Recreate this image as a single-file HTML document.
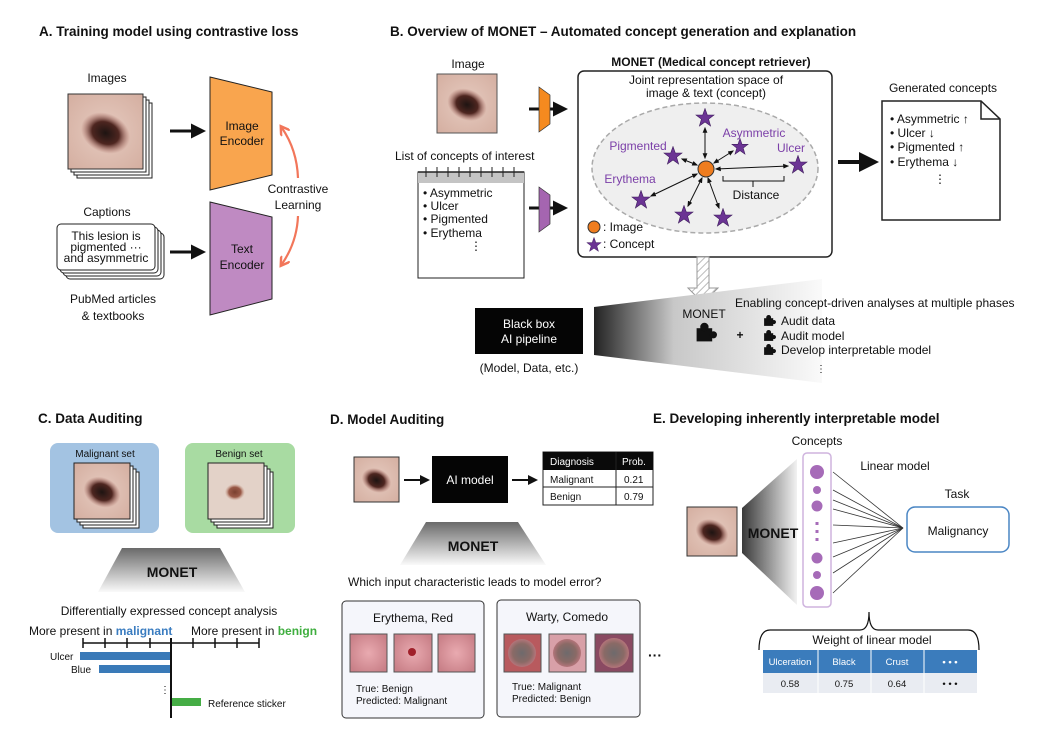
<!DOCTYPE html>
<html><head><meta charset="utf-8"><style>
html,body{margin:0;padding:0;background:#fff}
svg{display:block}
text{font-family:"Liberation Sans",Arial,sans-serif;fill:#111}
.t{font-weight:bold;font-size:13.5px}
.s{font-size:12px}
.xs{font-size:10px}
.p{fill:#7b3fa8}
</style></head><body>
<svg width="1050" height="747" viewBox="0 0 1050 747" xmlns="http://www.w3.org/2000/svg">
<defs>
<radialGradient id="skin" cx="50%" cy="50%" r="70%"><stop offset="0" stop-color="#e6cbc0"/><stop offset="1" stop-color="#d4aea0"/></radialGradient>
<radialGradient id="les" cx="50%" cy="50%" r="50%"><stop offset="0" stop-color="#1e1412"/><stop offset=".55" stop-color="#4e2620"/><stop offset="1" stop-color="#a46058" stop-opacity="0"/></radialGradient>
<radialGradient id="les2" cx="50%" cy="50%" r="50%"><stop offset="0" stop-color="#7a4030"/><stop offset=".6" stop-color="#9a5a48"/><stop offset="1" stop-color="#c89a88" stop-opacity="0"/></radialGradient>
<radialGradient id="derm1" cx="50%" cy="50%" r="60%"><stop offset="0" stop-color="#e9aab0"/><stop offset="1" stop-color="#c98088"/></radialGradient>
<radialGradient id="derm2" cx="50%" cy="50%" r="55%"><stop offset="0" stop-color="#6e6a6c"/><stop offset=".6" stop-color="#8a6a66"/><stop offset="1" stop-color="#c07880"/></radialGradient>
<symbol id="mole" viewBox="0 0 100 100" preserveAspectRatio="none"><rect width="100" height="100" fill="url(#skin)"/><ellipse cx="50" cy="52" rx="34" ry="26" fill="url(#les)" transform="rotate(25 50 52)"/></symbol>
<symbol id="mole2" viewBox="0 0 100 100" preserveAspectRatio="none"><rect width="100" height="100" fill="#e3d2c8"/><ellipse cx="48" cy="52" rx="18" ry="15" fill="url(#les2)"/></symbol>
<symbol id="star" viewBox="-10 -10 20 20"><polygon points="0,-9.5 2.3,-3 9,-3 3.6,1.2 5.6,8 0,4 -5.6,8 -3.6,1.2 -9,-3 -2.3,-3" fill="#6b3494" stroke="#3e1c5c" stroke-width=".6"/></symbol>
<symbol id="puz" viewBox="0 0 20 20"><rect x="3" y="6" width="13" height="11" fill="#111"/><circle cx="9.5" cy="5" r="3.5" fill="#111"/><circle cx="17" cy="11.5" r="3" fill="#111"/></symbol>
<linearGradient id="gB" x1="0" x2="1" y1="0" y2="0"><stop offset="0" stop-color="#222"/><stop offset=".35" stop-color="#c8c8c8"/><stop offset="1" stop-color="#fafafa"/></linearGradient>
<linearGradient id="gV" x1="0" x2="0" y1="0" y2="1"><stop offset="0" stop-color="#6a6a6a"/><stop offset="1" stop-color="#fafafa"/></linearGradient>
<linearGradient id="gE" x1="0" x2="1" y1="0" y2="0"><stop offset="0" stop-color="#3a3a3a"/><stop offset="1" stop-color="#f2f2f2"/></linearGradient>
<pattern id="hatch" width="5" height="5" patternUnits="userSpaceOnUse" patternTransform="rotate(45)"><rect width="5" height="5" fill="#fff"/><line x1="0" y1="0" x2="0" y2="5" stroke="#bbb" stroke-width="2"/></pattern>
<marker id="ah" viewBox="0 0 10 10" refX="8" refY="5" markerWidth="5" markerHeight="5" orient="auto-start-reverse"><path d="M0,0L10,5L0,10z" fill="#111"/></marker>
<marker id="ahs" viewBox="0 0 10 10" refX="8" refY="5" markerWidth="6" markerHeight="6" orient="auto-start-reverse"><path d="M0,1L10,5L0,9z" fill="#111"/></marker>
<marker id="aho" viewBox="0 0 10 10" refX="6" refY="5" markerWidth="5" markerHeight="5" orient="auto-start-reverse"><path d="M0,0L8,5L0,10" fill="none" stroke="#f2765a" stroke-width="2.2"/></marker>
</defs>

<!-- Panel A -->
<text x="39" y="36" class="t">A. Training model using contrastive loss</text>
<text x="107" y="82" class="s" text-anchor="middle" font-size="13">Images</text>
<g stroke="#222" stroke-width="1">
<rect x="77" y="103" width="75" height="75" fill="#fff"/><rect x="74" y="100" width="75" height="75" fill="#fff"/><rect x="71" y="97" width="75" height="75" fill="#fff"/>
</g>
<use href="#mole" x="68" y="94" width="75" height="75"/><rect x="68" y="94" width="75" height="75" fill="none" stroke="#333"/>
<line x1="170" y1="131" x2="203" y2="131" stroke="#111" stroke-width="3" marker-end="url(#ah)"/>
<polygon points="210,77 272,92 272,175 210,190" fill="#f9a54e" stroke="#222"/>
<text x="242" y="130" class="s" text-anchor="middle" font-size="13">Image</text>
<text x="242" y="145" class="s" text-anchor="middle" font-size="13">Encoder</text>
<polygon points="210,202 272,217 272,299 210,315" fill="#bf8ac2" stroke="#222"/>
<text x="242" y="253" class="s" text-anchor="middle" font-size="13">Text</text>
<text x="242" y="269" class="s" text-anchor="middle" font-size="13">Encoder</text>
<text x="298" y="193" class="s" text-anchor="middle" font-size="13">Contrastive</text>
<text x="298" y="209" class="s" text-anchor="middle" font-size="13">Learning</text>
<path d="M282,128 Q297,150 298,178" fill="none" stroke="#f2765a" stroke-width="2.2" marker-start="url(#aho)"/>
<path d="M298,216 Q297,242 282,264" fill="none" stroke="#f2765a" stroke-width="2.2" marker-end="url(#aho)"/>
<text x="107" y="216" class="s" text-anchor="middle" font-size="13">Captions</text>
<g stroke="#222" fill="#fff">
<rect x="66" y="233" width="98" height="46" rx="4"/><rect x="63" y="230" width="98" height="46" rx="4"/><rect x="60" y="227" width="98" height="46" rx="4"/><rect x="57" y="224" width="98" height="46" rx="4"/>
</g>
<text x="106" y="240" class="s" text-anchor="middle" font-size="11">This lesion is</text>
<text x="106" y="251" class="s" text-anchor="middle" font-size="11">pigmented ···</text>
<text x="106" y="262" class="s" text-anchor="middle" font-size="11">and asymmetric</text>
<line x1="170" y1="252" x2="203" y2="252" stroke="#111" stroke-width="3" marker-end="url(#ah)"/>
<text x="113" y="303" class="s" text-anchor="middle" font-size="13">PubMed articles</text>
<text x="113" y="320" class="s" text-anchor="middle" font-size="13">&amp; textbooks</text>

<!-- Panel B -->
<text x="390" y="36" class="t">B. Overview of MONET – Automated concept generation and explanation</text>
<text x="468" y="68" class="s" text-anchor="middle" font-size="13">Image</text>
<use href="#mole" x="437" y="74" width="60" height="59"/><rect x="437" y="74" width="60" height="59" fill="none" stroke="#555"/>
<line x1="529" y1="109" x2="565" y2="109" stroke="#111" stroke-width="3" marker-end="url(#ah)"/>
<polygon points="539,87 550,95 550,124 539,132" fill="#f58a1f" stroke="#333" stroke-width=".7"/>
<text x="395" y="160" class="s" font-size="12.5">List of concepts of interest</text>
<rect x="418" y="172" width="106" height="106" fill="#fff" stroke="#222"/>
<rect x="418" y="172" width="106" height="11" fill="#c4c4c4"/>
<line x1="418" y1="172" x2="524" y2="172" stroke="#222" stroke-width="1.5"/>
<g stroke="#222" stroke-width="1"><line x1="426" y1="167" x2="426" y2="177"/><line x1="437" y1="167" x2="437" y2="177"/><line x1="448" y1="167" x2="448" y2="177"/><line x1="459" y1="167" x2="459" y2="177"/><line x1="470" y1="167" x2="470" y2="177"/><line x1="481" y1="167" x2="481" y2="177"/><line x1="492" y1="167" x2="492" y2="177"/><line x1="503" y1="167" x2="503" y2="177"/><line x1="514" y1="167" x2="514" y2="177"/></g>
<text x="423" y="197" class="s">• Asymmetric</text><text x="423" y="210" class="s">• Ulcer</text><text x="423" y="223" class="s">• Pigmented</text><text x="423" y="237" class="s">• Erythema</text>
<text x="470" y="250" class="s">⋮</text>
<line x1="529" y1="208" x2="565" y2="208" stroke="#111" stroke-width="3" marker-end="url(#ah)"/>
<polygon points="539,187 550,195 550,224 539,232" fill="#a565b0" stroke="#333" stroke-width=".7"/>
<text x="711" y="66" class="s" text-anchor="middle" font-weight="bold" font-size="12.5">MONET (Medical concept retriever)</text>
<rect x="578" y="71" width="254" height="186" rx="6" fill="#fff" stroke="#222" stroke-width="1.5"/>
<text x="706" y="84" class="s" text-anchor="middle">Joint representation space of</text>
<text x="706" y="97" class="s" text-anchor="middle">image &amp; text (concept)</text>
<ellipse cx="705" cy="168" rx="113" ry="65" fill="#efefef" stroke="#aaa" stroke-width="1.5" stroke-dasharray="5,3"/>
<g stroke="#111" stroke-width="1" marker-start="url(#ahs)" marker-end="url(#ahs)">
<line x1="705" y1="158" x2="705" y2="128"/><line x1="714" y1="163" x2="733" y2="151"/><line x1="716" y1="169" x2="788" y2="166"/><line x1="697" y1="165" x2="682" y2="159"/><line x1="697" y1="174" x2="651" y2="196"/><line x1="702" y1="178" x2="688" y2="206"/><line x1="708" y1="178" x2="719" y2="208"/>
</g>
<circle cx="706" cy="169" r="8" fill="#ef7d1f" stroke="#333"/>
<use href="#star" x="695" y="108" width="20" height="20"/>
<use href="#star" x="731" y="138" width="18" height="18"/>
<use href="#star" x="788" y="155" width="20" height="20"/>
<use href="#star" x="663" y="146" width="20" height="20"/>
<use href="#star" x="631" y="190" width="20" height="20"/>
<use href="#star" x="674" y="205" width="20" height="20"/>
<use href="#star" x="713" y="208" width="20" height="20"/>
<text x="638" y="150" class="s p" text-anchor="middle" font-size="12.5">Pigmented</text>
<text x="754" y="137" class="s p" text-anchor="middle" font-size="12.5">Asymmetric</text>
<text x="791" y="152" class="s p" text-anchor="middle" font-size="12.5">Ulcer</text>
<text x="630" y="183" class="s p" text-anchor="middle" font-size="12.5">Erythema</text>
<path d="M723,176 L723,181 L784,181 L784,176 M753,181 L753,187" fill="none" stroke="#111"/>
<text x="756" y="199" class="s" text-anchor="middle">Distance</text>
<circle cx="594" cy="227" r="6" fill="#ef7d1f" stroke="#333"/><text x="603" y="231" class="s">: Image</text>
<use href="#star" x="586" y="237" width="16" height="16"/><text x="603" y="248" class="s">: Concept</text>
<line x1="838" y1="162" x2="875" y2="162" stroke="#111" stroke-width="4" marker-end="url(#ah)"/>
<text x="943" y="92" class="s" text-anchor="middle" font-size="13">Generated concepts</text>
<path d="M882,101 L981,101 L1000,119 L1000,220 L882,220 Z" fill="#fff" stroke="#222" stroke-width="1.5"/>
<path d="M981,101 L981,119 L1000,119" fill="none" stroke="#222" stroke-width="1.5"/>
<text x="890" y="123" class="s">• Asymmetric ↑</text><text x="890" y="137" class="s">• Ulcer ↓</text><text x="890" y="151" class="s">• Pigmented ↑</text><text x="890" y="166" class="s">• Erythema ↓</text>
<text x="934" y="183" class="s">⋮</text>
<path d="M697,257 L709,257 L709,288 L718,288 L703,303 L688,288 L697,288 Z" fill="url(#hatch)" stroke="#999"/>
<polygon points="594,307 822,279 822,383 594,355" fill="url(#gB)"/>
<rect x="475" y="308" width="108" height="46" fill="#050505"/>
<text x="529" y="328" text-anchor="middle" class="s" style="fill:#fff">Black box</text>
<text x="529" y="343" text-anchor="middle" class="s" style="fill:#fff">AI pipeline</text>
<text x="529" y="372" text-anchor="middle" class="s">(Model, Data, etc.)</text>
<text x="704" y="318" text-anchor="middle" class="s">MONET</text>
<use href="#puz" x="692" y="321" width="26" height="24"/>
<text x="740" y="339" text-anchor="middle" class="s" font-weight="bold" font-size="16">+</text>
<text x="735" y="307" class="s">Enabling concept-driven analyses at multiple phases</text>
<use href="#puz" x="762" y="314" width="14" height="14"/><text x="781" y="325" class="s">Audit data</text>
<use href="#puz" x="762" y="329" width="14" height="14"/><text x="781" y="340" class="s">Audit model</text>
<use href="#puz" x="762" y="343" width="14" height="14"/><text x="781" y="354" class="s">Develop interpretable model</text>
<text x="816" y="372" class="xs">⋮</text>

<!-- Panel C -->
<text x="38" y="423" class="t">C. Data Auditing</text>
<rect x="50" y="443" width="109" height="90" rx="8" fill="#a3c3e2"/>
<rect x="185" y="443" width="110" height="90" rx="8" fill="#a8dba2"/>
<text x="105" y="457" text-anchor="middle" class="xs">Malignant set</text>
<text x="239" y="457" text-anchor="middle" class="xs">Benign set</text>
<g stroke="#222" fill="#fff"><rect x="83" y="472" width="56" height="56"/><rect x="80" y="469" width="56" height="56"/><rect x="77" y="466" width="56" height="56"/></g>
<use href="#mole" x="74" y="463" width="56" height="56"/><rect x="74" y="463" width="56" height="56" fill="none" stroke="#222"/>
<g stroke="#222" fill="#fff"><rect x="217" y="472" width="56" height="56"/><rect x="214" y="469" width="56" height="56"/><rect x="211" y="466" width="56" height="56"/></g>
<use href="#mole2" x="208" y="463" width="56" height="56"/><rect x="208" y="463" width="56" height="56" fill="none" stroke="#222"/>
<polygon points="122,548 220,548 245,592 98,592" fill="url(#gV)"/>
<text x="172" y="577" text-anchor="middle" font-weight="bold" font-size="14">MONET</text>
<text x="169" y="615" text-anchor="middle" class="s">Differentially expressed concept analysis</text>
<text x="29" y="635" class="s">More present in <tspan fill="#3a7cc0" font-weight="bold">malignant</tspan></text>
<text x="191" y="635" class="s">More present in <tspan fill="#3fae3f" font-weight="bold">benign</tspan></text>
<g stroke="#111" stroke-width="1.5"><line x1="83" y1="643" x2="259" y2="643"/>
<line x1="83" y1="638" x2="83" y2="648"/><line x1="105" y1="638" x2="105" y2="648"/><line x1="127" y1="638" x2="127" y2="648"/><line x1="150" y1="638" x2="150" y2="648"/><line x1="193" y1="638" x2="193" y2="648"/><line x1="215" y1="638" x2="215" y2="648"/><line x1="237" y1="638" x2="237" y2="648"/><line x1="259" y1="638" x2="259" y2="648"/></g>
<rect x="80" y="652" width="90" height="8" fill="#3a7ab8"/>
<rect x="99" y="665" width="71" height="8" fill="#3a7ab8"/>
<rect x="172" y="698" width="29" height="8" fill="#45ad45"/>
<line x1="171" y1="638" x2="171" y2="718" stroke="#111" stroke-width="2"/>
<text x="50" y="660" class="xs">Ulcer</text><text x="71" y="673" class="xs">Blue</text>
<text x="160" y="693" class="xs" fill="#777">⋮</text>
<text x="208" y="707" class="xs">Reference sticker</text>

<!-- Panel D -->
<text x="330" y="424" class="t">D. Model Auditing</text>
<use href="#mole" x="354" y="457" width="45" height="45"/><rect x="354" y="457" width="45" height="45" fill="none" stroke="#333"/>
<line x1="404" y1="480" x2="428" y2="480" stroke="#111" stroke-width="2" marker-end="url(#ah)"/>
<rect x="432" y="456" width="76" height="47" fill="#050505"/>
<text x="470" y="484" text-anchor="middle" class="s" style="fill:#fff">AI model</text>
<line x1="512" y1="480" x2="536" y2="480" stroke="#111" stroke-width="2" marker-end="url(#ah)"/>
<rect x="543" y="452" width="110" height="53" fill="#fff" stroke="#222"/>
<rect x="543" y="452" width="110" height="18" fill="#0a0a0a"/>
<line x1="543" y1="487" x2="653" y2="487" stroke="#222"/><line x1="616" y1="452" x2="616" y2="505" stroke="#222"/>
<text x="550" y="465" class="xs" style="fill:#fff">Diagnosis</text><text x="622" y="465" class="xs" style="fill:#fff">Prob.</text>
<text x="550" y="483" class="xs">Malignant</text><text x="624" y="483" class="xs">0.21</text>
<text x="550" y="500" class="xs">Benign</text><text x="624" y="500" class="xs">0.79</text>
<polygon points="426,522 518,522 546,565 400,565" fill="url(#gV)"/>
<text x="473" y="551" text-anchor="middle" font-weight="bold" font-size="14">MONET</text>
<text x="348" y="586" class="s">Which input characteristic leads to model error?</text>
<rect x="342" y="601" width="142" height="117" rx="4" fill="#f5f6fb" stroke="#333"/>
<rect x="497" y="600" width="143" height="117" rx="4" fill="#f5f6fb" stroke="#333"/>
<text x="413" y="622" text-anchor="middle" class="s">Erythema, Red</text>
<text x="567" y="621" text-anchor="middle" class="s">Warty, Comedo</text>
<rect x="350" y="634" width="37" height="38" fill="url(#derm1)" stroke="#555"/>
<rect x="394" y="634" width="38" height="38" fill="url(#derm1)" stroke="#555"/><circle cx="412" cy="652" r="4" fill="#a0202a"/>
<rect x="438" y="634" width="37" height="38" fill="url(#derm1)" stroke="#555"/>
<rect x="504" y="634" width="37" height="38" fill="#b85a5e" stroke="#555"/><circle cx="522" cy="653" r="14" fill="url(#derm2)"/>
<rect x="549" y="634" width="37" height="38" fill="#d8a0a8" stroke="#555"/><circle cx="567" cy="653" r="14" fill="url(#derm2)"/>
<rect x="595" y="634" width="38" height="38" fill="#8a4a62" stroke="#555"/><circle cx="614" cy="653" r="15" fill="url(#derm2)"/>
<text x="356" y="692" class="xs">True: Benign</text><text x="356" y="704" class="xs">Predicted: Malignant</text>
<text x="512" y="690" class="xs">True: Malignant</text><text x="512" y="702" class="xs">Predicted: Benign</text>
<text x="655" y="660" text-anchor="middle" font-weight="bold" font-size="14" fill="#2a5ca8">···</text>

<!-- Panel E -->
<text x="653" y="423" class="t">E. Developing inherently interpretable model</text>
<text x="817" y="445" text-anchor="middle" class="s">Concepts</text>
<polygon points="742,508 797,459 797,605 742,553" fill="url(#gE)"/>
<use href="#mole" x="687" y="507" width="50" height="49"/><rect x="687" y="507" width="50" height="49" fill="none" stroke="#333"/>
<text x="773" y="538" text-anchor="middle" font-weight="bold" font-size="14">MONET</text>
<rect x="803" y="453" width="28" height="154" rx="4" fill="#fff" stroke="#cfb4de" stroke-width="1.5"/>
<g fill="#a66bb8"><circle cx="817" cy="472" r="7"/><circle cx="817" cy="490" r="4"/><circle cx="817" cy="506" r="5.5"/><rect x="815.5" y="522" width="3" height="3"/><rect x="815.5" y="530" width="3" height="3"/><rect x="815.5" y="538" width="3" height="3"/><circle cx="817" cy="558" r="5.5"/><circle cx="817" cy="575" r="4"/><circle cx="817" cy="593" r="7"/></g>
<g stroke="#333" stroke-width=".8"><line x1="833" y1="472" x2="903" y2="528"/><line x1="833" y1="490" x2="903" y2="528"/><line x1="833" y1="500" x2="903" y2="528"/><line x1="833" y1="509" x2="903" y2="528"/><line x1="833" y1="525" x2="903" y2="528"/><line x1="833" y1="543" x2="903" y2="528"/><line x1="833" y1="557" x2="903" y2="528"/><line x1="833" y1="573" x2="903" y2="528"/><line x1="833" y1="593" x2="903" y2="528"/></g>
<text x="895" y="470" text-anchor="middle" class="s">Linear model</text>
<text x="957" y="498" text-anchor="middle" class="s">Task</text>
<rect x="907" y="507" width="102" height="45" rx="8" fill="#fff" stroke="#4a86c4" stroke-width="1.5"/>
<text x="958" y="535" text-anchor="middle" class="s">Malignancy</text>
<path d="M759,650 Q759,630 770,630 L860,630 Q869,630 869,612 Q869,630 878,630 L968,630 Q979,630 979,650" fill="none" stroke="#111" stroke-width="1.2"/>
<text x="872" y="644" text-anchor="middle" class="s">Weight of linear model</text>
<rect x="763" y="650" width="214" height="23" fill="#3b7cbc"/>
<rect x="763" y="673" width="214" height="20" fill="#e9ecf2"/>
<g stroke="#fff" stroke-width="1"><line x1="818" y1="650" x2="818" y2="693"/><line x1="871" y1="650" x2="871" y2="693"/><line x1="924" y1="650" x2="924" y2="693"/></g>
<g font-size="9.5" text-anchor="middle"><text x="790" y="665" style="fill:#fff">Ulceration</text><text x="844" y="665" style="fill:#fff">Black</text><text x="897" y="665" style="fill:#fff">Crust</text><text x="950" y="665" style="fill:#fff" font-weight="bold">• • •</text>
<text x="790" y="687">0.58</text><text x="844" y="687">0.75</text><text x="897" y="687">0.64</text><text x="950" y="687">• • •</text></g>
</svg>
</body></html>
